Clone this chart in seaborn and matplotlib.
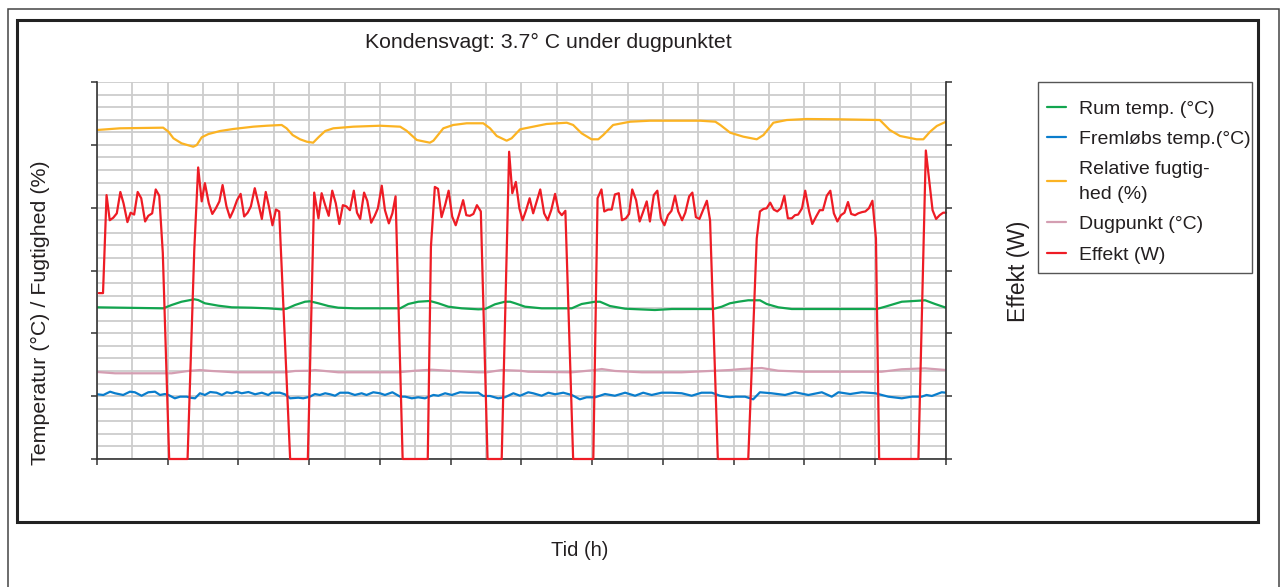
import numpy as np
import pandas as pd
import seaborn as sns
import matplotlib.pyplot as plt
from matplotlib.patches import Rectangle

# tid i timer (0-24), aflæst fra kurverne
rum_t = [0.0, 1.87, 2.11, 2.39, 2.75, 2.86, 3.05, 3.43, 3.81, 4.37, 4.84, 5.22, 5.36, 5.60, 5.88, 6.02,
         6.26, 6.54, 6.82, 7.29, 8.57, 8.80, 9.08, 9.41, 9.65, 9.93, 10.31, 10.78, 10.97, 11.25, 11.53,
         11.68, 11.82, 12.10, 12.57, 13.42, 13.70, 14.08, 14.22, 14.50, 14.93, 15.77, 16.25, 17.42,
         17.66, 17.89, 18.13, 18.41, 18.74, 18.93, 19.26, 19.64, 22.04, 22.28, 22.75, 23.22, 23.41,
         23.69, 24.0]
rum_temp = [24.14, 23.98, 24.51, 25.03, 25.42, 25.30, 24.78, 24.40, 24.14, 24.08, 23.98, 23.82, 23.92,
            24.51, 25.03, 25.10, 24.78, 24.35, 24.08, 23.98, 23.98, 24.67, 25.03, 25.15, 24.78, 24.24,
            23.98, 23.82, 23.87, 24.62, 25.03, 25.03, 24.78, 24.24, 23.98, 23.98, 24.67, 25.03, 25.03,
            24.35, 23.92, 23.71, 23.87, 23.87, 24.24, 24.78, 25.03, 25.26, 25.26, 24.67, 24.14, 23.87,
            23.87, 24.24, 25.03, 25.19, 25.26, 24.67, 24.08]

frem_t = [0.0, 0.18, 0.37, 0.51, 0.74, 0.93, 1.07, 1.26, 1.45, 1.64, 1.78, 1.92, 2.02, 2.20, 2.35, 2.54,
          2.63, 2.77, 2.91, 3.05, 3.20, 3.38, 3.53, 3.67, 3.81, 3.95, 4.09, 4.28, 4.47, 4.66, 4.84, 4.94,
          5.17, 5.31, 5.46, 5.69, 5.83, 6.02, 6.16, 6.30, 6.45, 6.59, 6.73, 6.87, 7.10, 7.29, 7.48, 7.62,
          7.81, 8.00, 8.14, 8.35, 8.57, 8.71, 8.90, 9.08, 9.27, 9.51, 9.65, 9.84, 10.03, 10.26, 10.50,
          10.78, 10.92, 11.11, 11.34, 11.53, 11.77, 11.96, 12.19, 12.33, 12.57, 12.76, 12.95, 13.18,
          13.42, 13.65, 13.84, 14.08, 14.36, 14.64, 14.93, 15.21, 15.44, 15.68, 15.96, 16.25, 16.53,
          16.81, 17.09, 17.38, 17.61, 17.89, 18.04, 18.32, 18.55, 18.74, 19.07, 19.45, 19.73, 20.11,
          20.49, 20.77, 20.96, 21.29, 21.62, 22.00, 22.37, 22.75, 23.03, 23.31, 23.45, 23.60, 23.88, 24.0]
frem_temp = [10.30, 10.19, 10.71, 10.46, 10.19, 10.71, 10.62, 10.07, 10.62, 10.71, 10.19, 10.34, 10.19,
             9.66, 9.92, 9.92, 9.76, 9.66, 10.46, 10.19, 10.66, 10.55, 10.19, 10.62, 10.46, 10.71, 10.46,
             10.66, 10.30, 10.55, 10.19, 10.55, 10.55, 10.30, 9.66, 9.76, 9.66, 9.92, 10.34, 10.19,
             10.46, 10.30, 10.07, 10.55, 10.55, 10.19, 10.46, 10.19, 10.62, 10.46, 10.19, 10.62, 9.92,
             9.92, 9.66, 9.82, 9.66, 10.19, 10.07, 10.46, 10.19, 10.62, 10.55, 10.55, 10.03, 10.03, 9.66,
             9.82, 10.46, 10.07, 10.62, 10.46, 10.07, 10.55, 10.30, 10.55, 10.19, 9.50, 9.82, 9.82, 10.34,
             10.07, 10.55, 10.07, 10.55, 10.19, 10.55, 10.55, 10.46, 10.07, 10.55, 10.55, 10.07, 9.82,
             9.92, 9.92, 9.50, 10.62, 10.46, 10.19, 10.62, 10.19, 10.62, 9.92, 10.62, 10.34, 10.62,
             10.46, 9.92, 9.66, 9.92, 9.92, 10.19, 10.03, 10.62, 10.55]

fugt_t = [0.0, 0.65, 1.87, 2.02, 2.16, 2.39, 2.72, 2.82, 2.96, 3.15, 3.48, 3.85, 4.42, 4.80, 5.22, 5.36,
          5.53, 5.74, 5.93, 6.11, 6.26, 6.45, 6.68, 7.25, 8.00, 8.57, 8.75, 9.04, 9.41, 9.51, 9.79,
          10.07, 10.45, 10.92, 11.11, 11.30, 11.58, 11.72, 11.96, 12.33, 12.71, 13.28, 13.46, 13.70,
          13.98, 14.17, 14.31, 14.59, 15.07, 15.63, 16.10, 17.05, 17.48, 17.62, 17.90, 18.27, 18.65,
          18.84, 19.12, 19.50, 20.06, 21.00, 22.13, 22.41, 22.70, 23.17, 23.36, 23.55, 23.74, 24.0]
fugt = [52.36, 52.63, 52.73, 52.09, 51.04, 50.24, 49.70, 49.97, 51.20, 51.72, 52.20, 52.52, 52.89,
        53.04, 53.16, 52.63, 51.56, 50.88, 50.50, 50.34, 51.20, 52.20, 52.63, 52.89, 53.04, 52.89,
        52.25, 50.77, 50.34, 50.66, 52.63, 53.16, 53.43, 53.43, 52.63, 51.41, 50.66, 51.04, 52.47,
        52.89, 53.32, 53.52, 53.16, 51.83, 50.88, 50.88, 51.56, 53.16, 53.68, 53.84, 53.84, 53.84,
        53.68, 53.16, 51.93, 51.30, 50.88, 51.56, 53.52, 53.95, 54.11, 54.06, 53.95, 52.36, 51.41,
        50.88, 50.88, 52.09, 53.00, 53.68]

dug_t = [0.0, 0.51, 2.11, 2.58, 2.91, 3.24, 3.90, 5.31, 5.60, 6.02, 6.16, 6.82, 8.52, 8.99, 9.46, 10.03,
         10.78, 11.02, 11.44, 11.96, 12.19, 13.42, 14.08, 14.27, 14.64, 15.40, 16.53, 17.89, 18.22,
         18.79, 19.26, 20.01, 22.18, 22.75, 23.41, 24.0]
dugpunkt = [13.85, 13.64, 13.64, 14.01, 14.16, 14.01, 13.80, 13.80, 14.01, 14.05, 14.16, 13.80, 13.80,
            14.05, 14.21, 14.01, 13.80, 13.80, 14.16, 14.05, 13.89, 13.80, 14.16, 14.32, 14.01, 13.80,
            13.80, 14.16, 14.32, 14.48, 14.05, 13.89, 13.89, 14.28, 14.43, 14.16]

effekt_t = [0.05, 0.17, 0.27, 0.36, 0.46, 0.56, 0.66, 0.75, 0.86, 0.95, 1.05, 1.15, 1.25, 1.36, 1.45,
            1.56, 1.66, 1.76, 1.86, 2.04, 2.56, 2.75, 2.86, 2.96, 3.05, 3.16, 3.26, 3.36, 3.46, 3.55,
            3.66, 3.76, 3.85, 3.96, 4.06, 4.16, 4.26, 4.35, 4.46, 4.56, 4.66, 4.77, 4.86, 4.96, 5.06,
            5.15, 5.46, 5.96, 6.14, 6.26, 6.35, 6.45, 6.55, 6.65, 6.75, 6.85, 6.95, 7.05, 7.15, 7.26,
            7.35, 7.44, 7.55, 7.64, 7.75, 7.85, 7.94, 8.05, 8.14, 8.25, 8.35, 8.44, 8.64, 9.35, 9.44,
            9.55, 9.64, 9.74, 9.84, 9.94, 10.04, 10.14, 10.24, 10.35, 10.44, 10.54, 10.64, 10.74, 10.85,
            11.04, 11.44, 11.65, 11.74, 11.84, 11.94, 12.03, 12.13, 12.23, 12.33, 12.43, 12.53, 12.64,
            12.74, 12.84, 12.95, 13.05, 13.14, 13.24, 13.46, 14.03, 14.15, 14.26, 14.34, 14.45, 14.55,
            14.64, 14.75, 14.84, 14.95, 15.04, 15.13, 15.24, 15.34, 15.43, 15.54, 15.63, 15.74, 15.84,
            15.94, 16.04, 16.14, 16.24, 16.34, 16.43, 16.54, 16.63, 16.74, 16.83, 16.93, 17.03, 17.13,
            17.24, 17.33, 17.55, 18.41, 18.65, 18.74, 18.84, 18.93, 19.03, 19.13, 19.23, 19.33, 19.43,
            19.53, 19.64, 19.73, 19.82, 19.93, 20.02, 20.13, 20.22, 20.33, 20.43, 20.52, 20.63, 20.73,
            20.83, 20.93, 21.03, 21.13, 21.23, 21.32, 21.43, 21.52, 21.63, 21.72, 21.82, 21.92, 22.02,
            22.11, 23.22, 23.43, 23.53, 23.62, 23.72, 23.82, 23.92, 24.0]
effekt = [264, 264, 420, 380, 384, 391, 425, 407, 377, 392, 389, 425, 415, 378, 387,
          391, 429, 419, 328, 0, 0, 333, 464, 410, 439, 407, 390, 399, 410, 436,
          402, 384, 395, 412, 422, 386, 392, 402, 431, 407, 382, 425, 402, 372, 397,
          394, 0, 0, 424, 383, 423, 404, 387, 427, 407, 374, 404, 402, 396, 427,
          392, 382, 424, 411, 376, 387, 399, 435, 396, 375, 391, 418, 0, 0, 338,
          433, 430, 385, 404, 427, 386, 372, 390, 412, 388, 387, 390, 404, 394,
          0, 0, 489, 423, 441, 399, 380, 396, 415, 391, 410, 429, 391,
          380, 396, 422, 394, 388, 395, 0, 0, 415, 429, 394, 397, 397,
          421, 423, 380, 383, 390, 429, 412, 378, 392, 410, 378, 420, 427,
          383, 372, 388, 395, 419, 394, 380, 392, 418, 424, 385, 382, 396,
          411, 380, 0, 0, 351, 394, 398, 399, 408, 397, 394, 399, 419,
          383, 383, 388, 389, 399, 427, 394, 374, 386, 396, 396, 419, 427,
          391, 378, 388, 392, 409, 390, 388, 391, 393, 394, 399, 411, 351,
          0, 0, 491, 441, 396, 382, 388, 392, 392]

labels = ['Rum temp. (°C)', 'Fremløbs temp.(°C)', 'Relative fugtig-\nhed (%)',
          'Dugpunkt (°C)', 'Effekt (W)']
colors = ['#12a54f', '#0a7dcc', '#fbb323', '#d49eb2', '#ee1c25']

sns.set_theme(style='white')
plt.rcParams['font.family'] = ['Liberation Sans', 'DejaVu Sans']
txt = '#231f20'

fig = plt.figure(figsize=(12.82, 5.87), dpi=100)
ax = fig.add_axes([97 / 1282, 1 - 459 / 587, 849 / 1282, 377 / 587])
ax2 = ax.twinx()

series = [(rum_t, rum_temp), (frem_t, frem_temp), (fugt_t, fugt), (dug_t, dugpunkt)]
for (t, v), lab, c in zip(series, labels[:4], colors[:4]):
    sns.lineplot(x=t, y=v, ax=ax, color=c, lw=1.6, label=lab, estimator=None, sort=False)
sns.lineplot(x=effekt_t, y=effekt, ax=ax2, color=colors[4], lw=1.6, label=labels[4],
             estimator=None, sort=False, clip_on=False)

for a in (ax, ax2):
    if a.get_legend() is not None:
        a.get_legend().remove()

ax.set_xlim(0, 24)
ax.set_ylim(0, 60)
ax2.set_ylim(0, 600)
ax.set_xticks(np.arange(0, 25, 2))
ax.set_xticks(np.arange(0, 25, 1), minor=True)
ax.set_yticks(np.arange(0, 61, 10))
ax.set_yticks(np.arange(0, 61, 2), minor=True)
ax2.set_yticks(np.arange(0, 601, 100))
ax.grid(which='both', color='#cdcdcd', lw=1.3)
ax2.grid(False)
ax.set_axisbelow(True)

ax.tick_params(which='major', direction='out', length=4.5, width=1.1, color='#333333',
               labelleft=False, labelbottom=False, left=True, bottom=True)
ax.tick_params(which='minor', length=0)
ax2.tick_params(axis='y', direction='out', length=4.5, width=1.1, color='#333333',
                labelright=False, right=True)
ax.set_xlabel('')
ax.set_ylabel('')
ax2.set_ylabel('')

for s in ['top', 'right']:
    ax.spines[s].set_visible(False)
for s in ['left', 'bottom']:
    ax.spines[s].set_color('#333333')
    ax.spines[s].set_linewidth(1.2)
for s in ['top', 'left', 'bottom']:
    ax2.spines[s].set_visible(False)
ax2.spines['right'].set_color('#333333')
ax2.spines['right'].set_linewidth(1.2)

# tekster
fig.text(548 / 1282, 1 - 42 / 587, 'Kondensvagt: 3.7° C under dugpunktet', ha='center',
         va='center', fontsize=15.3, color=txt)
fig.text(40 / 1282, 1 - 313 / 587, 'Temperatur (°C) / Fugtighed (%)', rotation=90,
         ha='center', va='center', fontsize=15.4, color=txt)
fig.text(1018 / 1282, 1 - 271 / 587, 'Effekt (W)', rotation=90, ha='center', va='center',
         fontsize=16.5, color=txt)
fig.text(580 / 1282, 1 - 551 / 587, 'Tid (h)', ha='center', va='center', fontsize=14.5,
         color=txt)

# forklaring, med egen ramme
handles = ax.get_lines()[:4] + ax2.get_lines()[:1]
leg = fig.legend(handles, labels, loc='upper left',
                 bbox_to_anchor=(1047 / 1282, 1 - 100 / 587), bbox_transform=fig.transFigure,
                 frameon=False, fontsize=14, handlelength=1.0, handletextpad=0.65,
                 labelspacing=0.66, borderpad=0, borderaxespad=0)
for tx in leg.get_texts():
    tx.set_color(txt)
    tx.set_linespacing(1.6)
fig.add_artist(Rectangle((1038 / 1282, 1 - 273 / 587), 214 / 1282, 191 / 587,
                         transform=fig.transFigure, fill=False, ec='#555555', lw=1.0))

# rammer
fig.add_artist(Rectangle((7.5 / 1282, -0.1), (1279 - 7.5) / 1282, 1.1 - 9 / 587,
                         transform=fig.transFigure, fill=False, ec='#444444', lw=1.1))
fig.add_artist(Rectangle((17 / 1282, 1 - 521.5 / 587), (1257.5 - 17) / 1282, (521.5 - 20) / 587,
                         transform=fig.transFigure, fill=False, ec='#222222', lw=2.2))

plt.savefig('out.png', dpi=100)
